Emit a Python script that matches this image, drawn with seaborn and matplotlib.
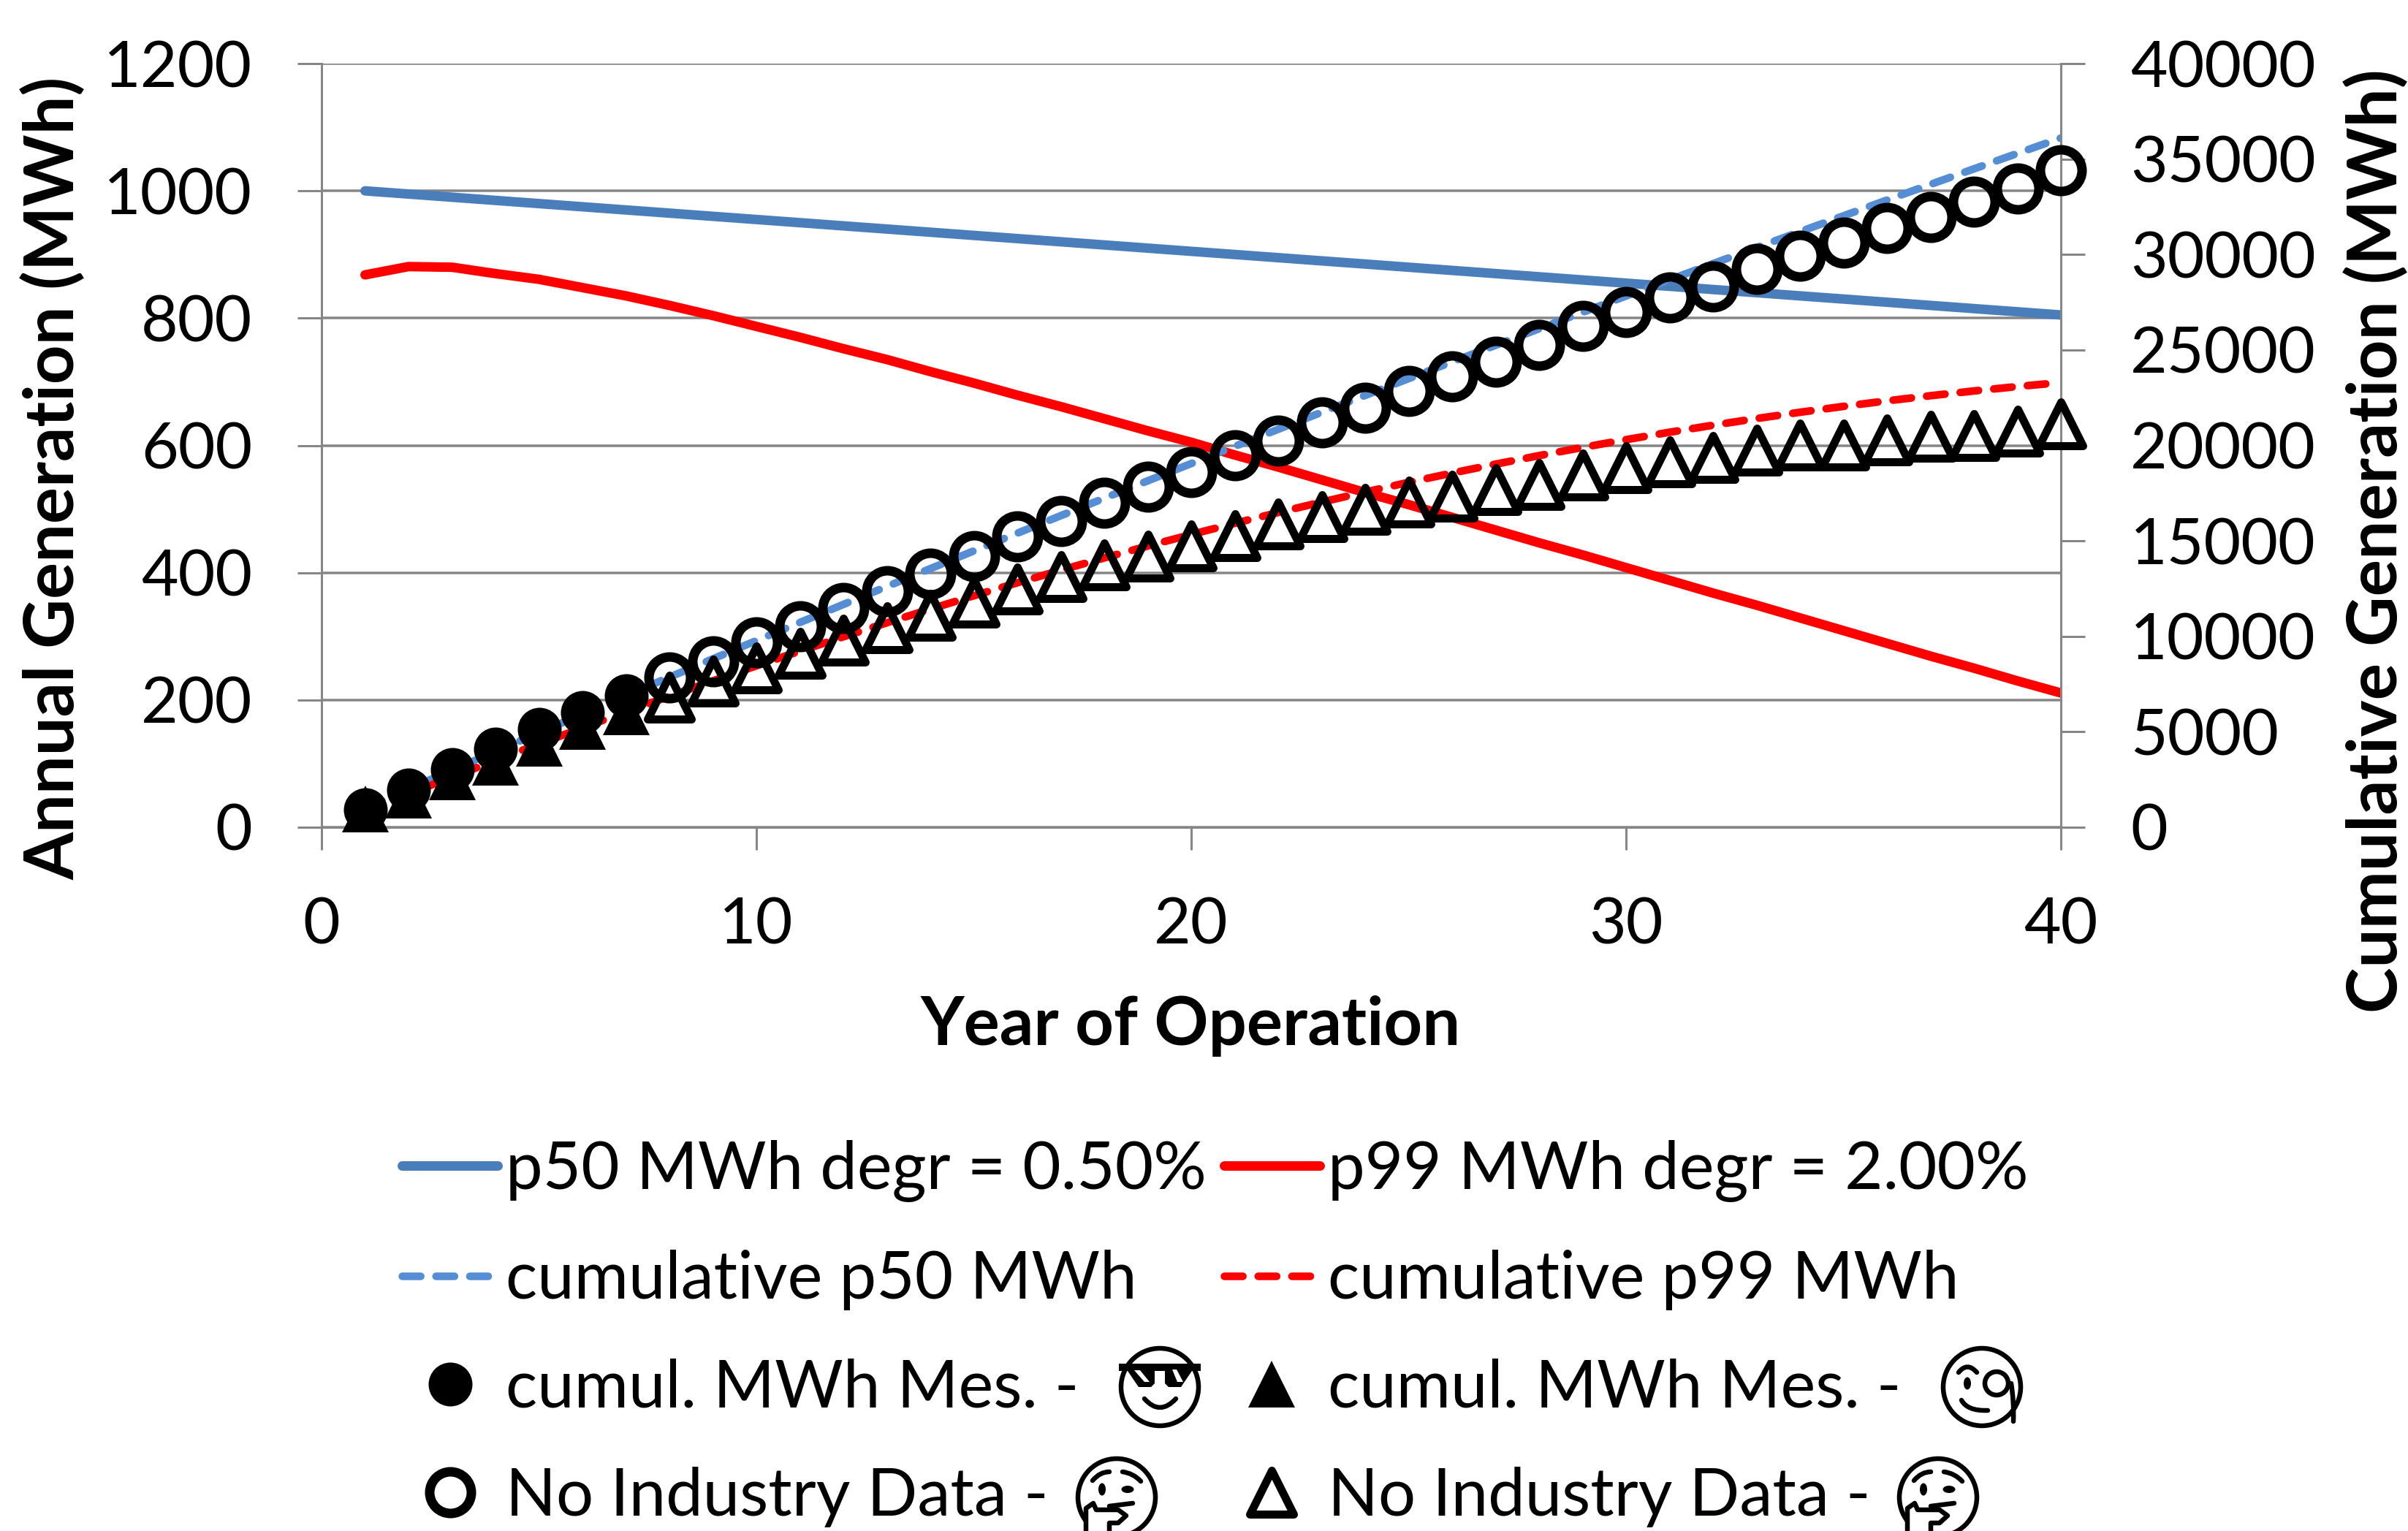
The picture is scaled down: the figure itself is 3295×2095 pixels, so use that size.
import matplotlib
matplotlib.use('Agg')
import matplotlib.pyplot as plt
from matplotlib.markers import MarkerStyle
from matplotlib.patches import Circle, Ellipse, PathPatch, Polygon, Rectangle
from matplotlib.path import Path
import seaborn as sns
import pandas as pd

years = list(range(1, 41))

p50Annual = [1000, 995, 990, 985, 980, 975, 970, 965, 960, 955, 950, 945, 940, 935, 930, 925, 920, 915, 910, 905,
             900, 895, 890, 885, 880, 875, 870, 865, 860, 855, 850, 845, 840, 835, 830, 825, 820, 815, 810, 805]
p99Annual = [868, 881, 880, 870, 861, 848, 835, 820, 804, 787, 770, 752, 735, 716, 698, 679, 661, 642, 623, 605,
             585, 566, 546, 526, 507, 487, 467, 447, 428, 408, 388, 368, 349, 329, 309, 289, 269, 250, 230, 211]
p50Cumulative = [1000, 1995, 2985, 3970, 4950, 5925, 6895, 7860, 8820, 9775, 10725, 11670, 12610, 13545, 14475,
                 15400, 16320, 17235, 18145, 19050, 19950, 20845, 21735, 22620, 23500, 24375, 25245, 26110, 26970,
                 27825, 28675, 29520, 30360, 31195, 32025, 32850, 33670, 34485, 35295, 36100]
p99Cumulative = [868, 1749, 2629, 3499, 4360, 5208, 6043, 6863, 7667, 8454, 9224, 9976, 10711, 11427, 12125,
                 12804, 13465, 14107, 14730, 15335, 15920, 16486, 17032, 17558, 18065, 18552, 19019, 19466, 19894,
                 20302, 20690, 21058, 21407, 21736, 22045, 22334, 22603, 22853, 23083, 23294]
circleMeasured = [920, 1950, 3025, 4100, 5130, 6010, 6890]
circleNoData = [7850, 8690, 9690, 10530, 11490, 12370, 13290, 14210, 15240, 16050, 17000, 17850, 18610, 19490,
                20260, 21220, 21980, 22860, 23630, 24400, 25280, 26240, 27000, 27770, 28340, 29260, 29950, 30640,
                31370, 31980, 32750, 33470, 34430]
triangleMeasured = [958, 1685, 2640, 3410, 4400, 5285, 6050]
triangleNoData = [6820, 7660, 8350, 9115, 9805, 10455, 11110, 11800, 12490, 13125, 13760, 14210, 14720, 15290,
                  15870, 16250, 16640, 17020, 17340, 17680, 17970, 18450, 18830, 19120, 19350, 19770, 20030, 20030,
                  20300, 20490, 20530, 20730, 21115]

xTicks = [0, 10, 20, 30, 40]
leftTicks = [0, 200, 400, 600, 800, 1000, 1200]
rightTicks = [0, 5000, 10000, 15000, 20000, 25000, 30000, 35000, 40000]

WIDTH, HEIGHT = 3295, 2095
DPI = 200
PX = 72 / DPI  # points per output pixel
GREY = '#868686'


def drawLine(ax, x, y, label, color, width, dashed=False):
    kws = dict(color=color, linewidth=width * PX, label=label, errorbar=None, ax=ax)
    if dashed:
        kws.update(dashes=False, linestyle=(0, (2.4, 2.0)), dash_capstyle='round')
    else:
        kws.update(solid_capstyle='round')
    sns.lineplot(x=x, y=y, **kws)


def drawMarkers(ax, x, y, label, marker, filled):
    style = MarkerStyle(marker, joinstyle='round')
    kws = dict(x=x, y=y, label=label, ax=ax, errorbar=None, linestyle='none', marker=style, clip_on=False,
               color='black', markeredgecolor='black', zorder=5)
    if filled:
        size = 60 if marker == 'o' else 64
        kws.update(markersize=size * PX, markeredgewidth=0)
    elif marker == 'o':
        kws.update(markersize=57 * PX, markeredgewidth=13 * PX, markerfacecolor='none')
    else:
        kws.update(markersize=60 * PX, markeredgewidth=11 * PX, markerfacecolor='none')
    sns.lineplot(**kws)


def stroke(ov, verts, codes=None, face='none', lw=6.5):
    ov.add_patch(PathPatch(Path(verts, codes), facecolor=face, edgecolor='black', linewidth=lw * PX,
                           capstyle='round', joinstyle='round'))


def curve(ov, start, control, end, cx, cy):
    pts = [(cx + p[0], cy + p[1]) for p in (start, control, end)]
    stroke(ov, pts, [Path.MOVETO, Path.CURVE3, Path.CURVE3])


def face(ov, cx, cy):
    ov.add_patch(Circle((cx, cy), 53, facecolor='none', edgecolor='black', linewidth=6.5 * PX))


def coolFace(ov, cx, cy):
    face(ov, cx, cy)
    ov.add_patch(Rectangle((cx - 56, cy - 32), 112, 10, facecolor='black', edgecolor='none'))
    for sign in (-1, 1):
        lens = [(46, -25), (7, -25), (7, -5), (12, 0), (29, 0)]
        ov.add_patch(Polygon([(cx + sign * a, cy + b) for a, b in lens], facecolor='black', edgecolor='none'))
    ov.add_patch(Polygon([(cx - 35, cy - 23), (cx - 27, cy - 23), (cx - 14, cy - 7), (cx - 21, cy - 7)],
                         facecolor='white', edgecolor='none'))
    ov.add_patch(Polygon([(cx + 17, cy - 24), (cx + 23, cy - 24), (cx + 32, cy - 7), (cx + 24, cy - 7)],
                         facecolor='white', edgecolor='none'))
    curve(ov, (-21, 16), (0, 40), (22, 16), cx, cy)


def monocleFace(ov, cx, cy):
    face(ov, cx, cy)
    curve(ov, (-32, -20), (-20, -35), (-7, -20), cx, cy)
    ov.add_patch(Ellipse((cx - 20, cy - 5), 10, 17, facecolor='black', edgecolor='none'))
    ov.add_patch(Circle((cx + 20, cy - 5), 16, facecolor='none', edgecolor='black', linewidth=6.5 * PX))
    curve(ov, (40, -5), (44, 20), (43, 47), cx, cy)
    curve(ov, (-28, 18), (-20, 33), (8, 32), cx, cy)


def thinkingFace(ov, cx, cy):
    face(ov, cx, cy)
    curve(ov, (-33, -23), (-23, -35), (-10, -35), cx, cy)
    curve(ov, (8, -35), (23, -33), (33, -22), cx, cy)
    ov.add_patch(Ellipse((cx - 20, cy - 11), 10, 17, facecolor='black', edgecolor='none'))
    ov.add_patch(Ellipse((cx + 15, cy - 11), 17, 10, facecolor='black', edgecolor='none'))
    stroke(ov, [(cx - 10, cy + 12), (cx + 22, cy + 8)])
    hand = [(-42, 50), (-42, 15), (-32, 8), (-28, 17), (2, 17), (13, 25), (2, 35), (-10, 35), (-10, 50)]
    stroke(ov, [(cx + a, cy + b) for a, b in hand], face='white')


if __name__ == '__main__':
    sns.set_style('white')
    plt.rcParams['font.family'] = ['Lato', 'DejaVu Sans']

    fig = plt.figure(figsize=(WIDTH / DPI, HEIGHT / DPI), dpi=DPI)
    ax = fig.add_axes([440 / WIDTH, 1 - 1132 / HEIGHT, 2380 / WIDTH, 1045 / HEIGHT])
    ax2 = ax.twinx()

    drawLine(ax, years, p50Annual, 'p50 MWh degr = 0.50%', '#4A7EBB', 13)
    drawLine(ax, years, p99Annual, 'p99 MWh degr = 2.00%', '#FF0000', 13)
    drawLine(ax2, years, p50Cumulative, 'cumulative p50 MWh', '#558ED5', 10.5, dashed=True)
    drawLine(ax2, years, p99Cumulative, 'cumulative p99 MWh', '#FF0000', 10.5, dashed=True)
    drawMarkers(ax2, years[:7], circleMeasured, 'cumul. MWh Mes. - ', 'o', True)
    drawMarkers(ax2, years[:7], triangleMeasured, 'cumul. MWh Mes. - ', '^', True)
    drawMarkers(ax2, years[7:], circleNoData, 'No Industry Data - ', 'o', False)
    drawMarkers(ax2, years[7:], triangleNoData, 'No Industry Data - ', '^', False)

    ax.set_xlim(0, 40)
    ax.set_ylim(0, 1200)
    ax2.set_ylim(0, 40000)
    ax.set_xticks(xTicks)
    ax.set_yticks(leftTicks)
    ax2.set_yticks(rightTicks)

    ax.grid(axis='y', color=GREY, linewidth=3.5 * PX)
    ax.grid(axis='x', visible=False)
    ax2.grid(False)
    ax.set_axisbelow(True)

    for a in (ax, ax2):
        for name, spine in a.spines.items():
            spine.set_color(GREY)
            spine.set_linewidth(3 * PX)
        a.spines['top'].set_visible(False)

    tickFont = 31.5
    ax.tick_params(axis='x', direction='out', bottom=True, length=31 * PX, width=3 * PX, color=GREY,
                   labelsize=tickFont, pad=65 * PX, labelcolor='black')
    ax.tick_params(axis='y', direction='out', left=True, length=33 * PX, width=3 * PX, color=GREY,
                   labelsize=tickFont, pad=62 * PX, labelcolor='black')
    ax2.tick_params(axis='y', direction='out', right=True, length=33 * PX, width=3 * PX, color=GREY,
                    labelsize=tickFont, pad=62 * PX, labelcolor='black')

    ax.set_xlabel('Year of Operation', fontsize=33.1, fontweight='bold', color='black', va='center', ha='center')
    ax.xaxis.set_label_coords(1629 / WIDTH, 1 - 1404 / HEIGHT, transform=fig.transFigure)
    ax.set_ylabel('Annual Generation (MWh)', fontsize=33.7, fontweight='bold', color='black', va='center', ha='center')
    ax.yaxis.set_label_coords(73 / WIDTH, 1 - 654 / HEIGHT, transform=fig.transFigure)
    ax2.set_ylabel('Cumulative Generation (MWh)', fontsize=34, fontweight='bold', color='black', rotation=90,
                   va='center', ha='center')
    ax2.yaxis.set_label_coords(3252 / WIDTH, 1 - 740 / HEIGHT, transform=fig.transFigure)

    handles1, labels1 = ax.get_legend_handles_labels()
    handles2, labels2 = ax2.get_legend_handles_labels()
    if ax2.get_legend() is not None:
        ax2.get_legend().remove()
    if ax.get_legend() is not None:
        ax.get_legend().remove()
    # column by column: left column first
    order = [handles1[0], handles2[0], handles2[2], handles2[4], handles1[1], handles2[1], handles2[3], handles2[5]]
    names = [labels1[0], labels2[0], labels2[2], labels2[4], labels1[1], labels2[1], labels2[3], labels2[5]]
    legend = fig.legend(order, names, ncol=2, frameon=False, fontsize=32.6, loc='upper left',
                        bbox_to_anchor=(550 / WIDTH, 1 - 1560 / HEIGHT), handlelength=1.45, handletextpad=0.12,
                        columnspacing=0.26, labelspacing=0.72, borderpad=0, borderaxespad=0, numpoints=1)
    for text in legend.get_texts():
        text.set_color('black')

    ov = fig.add_axes([0, 0, 1, 1], zorder=10)
    ov.set_xlim(0, WIDTH)
    ov.set_ylim(HEIGHT, 0)
    ov.axis('off')
    coolFace(ov, 1587, 1898)
    monocleFace(ov, 2712, 1898)
    thinkingFace(ov, 1528, 2049)
    thinkingFace(ov, 2652, 2049)

    fig.savefig('out.png', dpi=DPI)
